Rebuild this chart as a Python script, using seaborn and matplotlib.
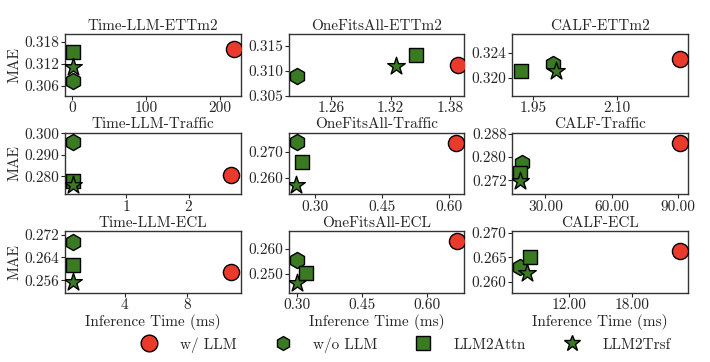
import seaborn as sns
import pandas as pd
import matplotlib.pyplot as plt
from matplotlib.lines import Line2D
from matplotlib.ticker import FormatStrFormatter

sns.set_theme(style='ticks')
plt.rcParams['font.family'] = ['cmr10', 'DejaVu Serif']
plt.rcParams['axes.formatter.use_mathtext'] = True
plt.rcParams['font.size'] = 11

# 데이터
models = ['Time-LLM', 'OneFitsAll', 'CALF']
datasets = ['ETTm2', 'Traffic', 'ECL']
variants = ['w/ LLM', 'w/o LLM', 'LLM2Attn', 'LLM2Trsf']

# inference time (ms), order = variants
time_ettm2 = [[219, 2, 2, 2], [1.388, 1.226, 1.345, 1.325], [2.213, 1.986, 1.928, 1.992]]
time_traffic = [[2.68, 0.155, 0.155, 0.155], [0.617, 0.259, 0.269, 0.257], [90.8, 19.5, 18.7, 18.7]]
time_ecl = [[10.86, 0.65, 0.65, 0.65], [0.671, 0.300, 0.321, 0.299], [22.6, 7.29, 8.24, 7.98]]

# MAE
mae_ettm2 = [[0.3160, 0.3072, 0.3152, 0.3112], [0.3111, 0.3090, 0.3131, 0.3110], [0.3230, 0.3222, 0.3211, 0.3211]]
mae_traffic = [[0.2808, 0.2960, 0.2777, 0.2759], [0.2737, 0.2739, 0.2662, 0.2570], [0.2847, 0.2779, 0.2745, 0.2718]]
mae_ecl = [[0.2590, 0.2696, 0.2614, 0.2554], [0.2631, 0.2553, 0.2503, 0.2462], [0.2662, 0.2630, 0.2650, 0.2618]]

times = [time_ettm2, time_traffic, time_ecl]
maes = [mae_ettm2, mae_traffic, mae_ecl]

# 축 범위 / 눈금
xlims = [[(-9.5, 228), (1.2177, 1.3939), (1.9133, 2.2274)],
         [(0.021, 2.835), (0.240, 0.6353), (15.0, 94.5)],
         [(0.155, 11.46), (0.2808, 0.6868), (6.57, 23.39)]]
ylims = [[(0.3033, 0.3201), (0.3051, 0.3173), (0.3171, 0.3271)],
         [(0.2716, 0.3003), (0.2535, 0.2776), (0.2672, 0.2883)],
         [(0.2516, 0.2732), (0.2422, 0.2671), (0.2578, 0.2703)]]
xticks = [[[0, 100, 200], [1.26, 1.32, 1.38], [1.95, 2.10]],
          [[1, 2], [0.30, 0.45, 0.60], [30, 60, 90]],
          [[4, 8], [0.30, 0.45, 0.60], [12, 18]]]
yticks = [[[0.306, 0.312, 0.318], [0.305, 0.310, 0.315], [0.320, 0.324]],
          [[0.280, 0.290, 0.300], [0.260, 0.270], [0.272, 0.280, 0.288]],
          [[0.256, 0.264, 0.272], [0.250, 0.260], [0.260, 0.265, 0.270]]]
xfmt = [['%d', '%.2f', '%.2f'], ['%d', '%.2f', '%.2f'], ['%d', '%.2f', '%.2f']]

red = '#ea3a2c'
green = '#3a7a22'
palette = {'w/ LLM': red, 'w/o LLM': green, 'LLM2Attn': green, 'LLM2Trsf': green}
markers = {'w/ LLM': 'o', 'w/o LLM': 'h', 'LLM2Attn': 's', 'LLM2Trsf': '*'}
sizes = {'w/ LLM': 135, 'w/o LLM': 135, 'LLM2Attn': 110, 'LLM2Trsf': 175}

fig, axes = plt.subplots(3, 3, figsize=(7.1, 3.62), dpi=100)
fig.subplots_adjust(left=0.0915, right=0.969, top=0.906, bottom=0.191, wspace=0.273, hspace=0.6)

for r in range(3):
    for c in range(3):
        ax = axes[r, c]
        df = pd.DataFrame({'time': times[r][c], 'mae': maes[r][c], 'variant': variants})
        for v in variants:
            sub = df[df['variant'] == v]
            sns.scatterplot(data=sub, x='time', y='mae', ax=ax, color=palette[v],
                            marker=markers[v], s=sizes[v], edgecolor='black',
                            linewidth=1, legend=False, zorder=3)
        ax.set_xlim(xlims[r][c])
        ax.set_ylim(ylims[r][c])
        ax.set_xticks(xticks[r][c])
        ax.set_yticks(yticks[r][c])
        ax.xaxis.set_major_formatter(FormatStrFormatter(xfmt[r][c]))
        ax.yaxis.set_major_formatter(FormatStrFormatter('%.3f'))
        ax.set_title(models[c] + '-' + datasets[r], fontsize=11, pad=3)
        ax.set_xlabel('Inference Time (ms)' if r == 2 else '', fontsize=11, labelpad=1)
        ax.set_ylabel('MAE' if c == 0 else '', fontsize=11, labelpad=2)
        ax.tick_params(labelsize=11, length=3, width=0.8, pad=1)
        for s in ax.spines.values():
            s.set_color('#333333')
            s.set_linewidth(1)

handles = [Line2D([], [], linestyle='', marker=markers[v], markersize=10,
                  markerfacecolor=palette[v], markeredgecolor='black', label=v) for v in variants]
handles[0].set_markersize(12)
handles[3].set_markersize(12)
fig.legend(handles=handles, loc='center', bbox_to_anchor=(0.567, 0.047), ncol=4, frameon=False,
           fontsize=11, columnspacing=2.0, handletextpad=1.0)

plt.savefig('out.png', dpi=100)
